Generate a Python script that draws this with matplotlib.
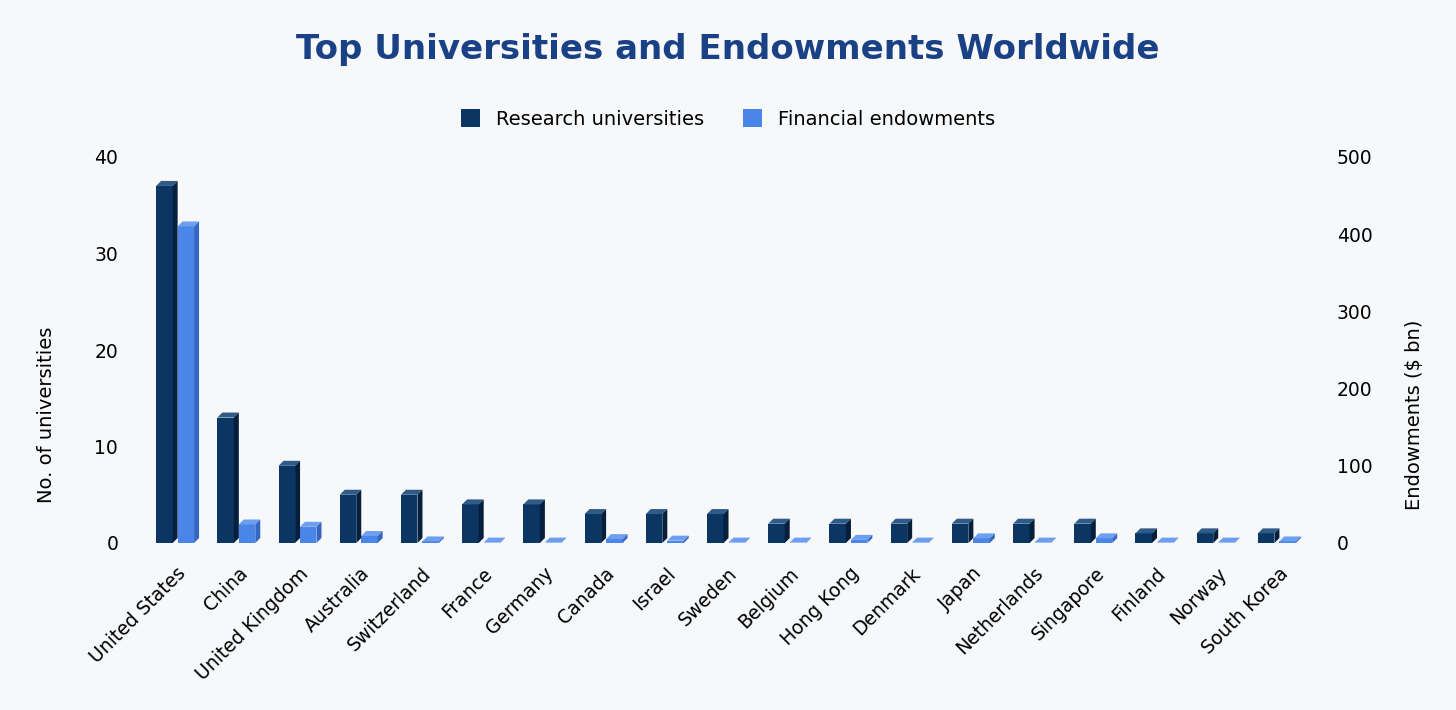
import matplotlib
matplotlib.use("Agg")
import matplotlib.pyplot as plt
from matplotlib.patches import Polygon, Patch
import numpy as np

countries = ["United States", "China", "United Kingdom", "Australia", "Switzerland",
             "France", "Germany", "Canada", "Israel", "Sweden", "Belgium", "Hong Kong",
             "Denmark", "Japan", "Netherlands", "Singapore", "Finland", "Norway", "South Korea"]
universities = [37, 13, 8, 5, 5, 4, 4, 3, 3, 3, 2, 2, 2, 2, 2, 2, 1, 1, 1]
endowments = [410, 24, 21, 9, 2, 0.5, 0.5, 5, 3, 0.5, 0.5, 4, 0.5, 6, 0.5, 6, 0.5, 0.5, 2]
left_ticks = [0, 10, 20, 30, 40]
right_ticks = [0, 100, 200, 300, 400, 500]

BG = "#f6f8fa"
DARK = "#0b3563"
DARK_TOP = "#2f5b88"
DARK_SIDE = "#051f3d"
LIGHT = "#4a86e8"
LIGHT_TOP = "#6d9ef0"
LIGHT_SIDE = "#3566c0"
TITLE = "#1a4185"

fig = plt.figure(figsize=(14.56, 7.10), dpi=100, facecolor=BG)
ax = fig.add_axes([146 / 1456, 167 / 710, (1309 - 146) / 1456, (543 - 157) / 710])
ax.set_facecolor(BG)
ax2 = ax.twinx()

x = np.arange(len(countries))
w = 0.27
b1 = ax.bar(x - 0.2, universities, width=w, color=DARK, zorder=2)
b2 = ax2.bar(x + 0.15, endowments, width=w, color=LIGHT, zorder=2)

ax.set_xlim(-0.5, len(countries) - 0.5)
ax.set_ylim(0, 40)
ax2.set_ylim(0, 500)
ax.set_yticks(left_ticks)
ax2.set_yticks(right_ticks)
ax.set_xticks(x)
ax.set_xticklabels(countries, rotation=45, ha="right", rotation_mode="anchor", fontsize=13.5)
ax.tick_params(axis="x", length=0, pad=15)
ax.tick_params(axis="y", length=0, pad=20, labelsize=13.5)
ax2.tick_params(axis="y", length=0, pad=20, labelsize=13.5)
for a in (ax, ax2):
    for s in a.spines.values():
        s.set_visible(False)

ax.set_ylabel("No. of universities", fontsize=14)
ax2.set_ylabel("Endowments ($ bn)", fontsize=14)
ax.yaxis.set_label_coords(-0.077, 0.332)
ax2.yaxis.set_label_coords(1.0826, 0.332)

# 3D faces
dx, dy = 5, 5
def add_3d(axis, bars, top_c, side_c):
    for r in bars:
        x0, y0 = r.get_x(), r.get_y()
        x1, y1 = x0 + r.get_width(), y0 + r.get_height()
        p10 = axis.transData.transform((x1, y0))
        p01 = axis.transData.transform((x0, y1))
        p11 = axis.transData.transform((x1, y1))
        top = [p01, p11, p11 + [dx, dy], p01 + [dx, dy]]
        side = [p10, p11, p11 + [dx, dy], p10 + [dx, dy]]
        fig.patches.append(Polygon(top, closed=True, transform=None, facecolor=top_c,
                                   edgecolor="none", figure=fig))
        fig.patches.append(Polygon(side, closed=True, transform=None, facecolor=side_c,
                                   edgecolor="none", figure=fig))

add_3d(ax, b1, DARK_TOP, DARK_SIDE)
add_3d(ax2, b2, LIGHT_TOP, LIGHT_SIDE)

fig.text(0.5, 1 - 50 / 710, "Top Universities and Endowments Worldwide", ha="center", va="center",
         fontsize=24.5, fontweight="bold", color=TITLE)

handles = [Patch(facecolor=DARK, label="Research universities"),
           Patch(facecolor=LIGHT, label="Financial endowments")]
fig.legend(handles=handles, loc="center", bbox_to_anchor=(0.5, 1 - 119 / 710), ncol=2,
           frameon=False, fontsize=14, handlelength=1.0, handleheight=1.0, columnspacing=2.0,
           handletextpad=0.8)

fig.savefig("out.png", dpi=100, facecolor=BG)
